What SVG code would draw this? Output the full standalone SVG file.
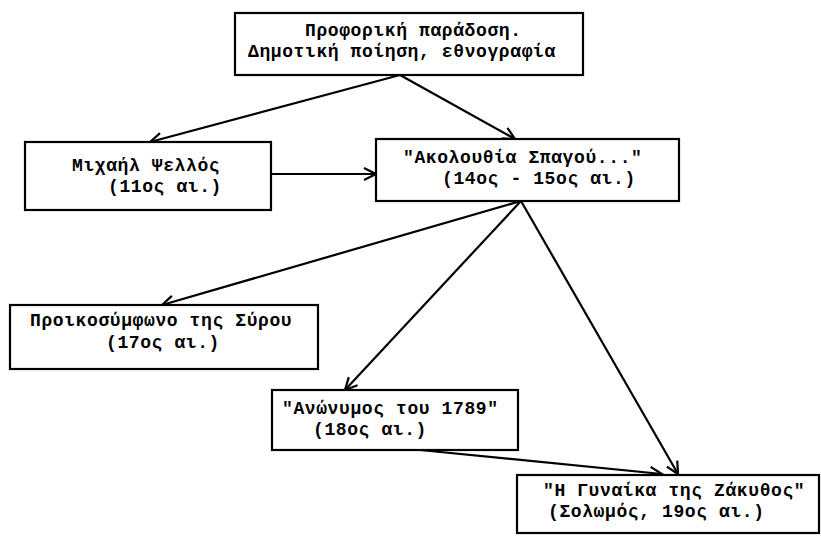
<svg xmlns="http://www.w3.org/2000/svg" width="821" height="537" viewBox="0 0 821 537">
<defs>
<style>
.box{fill:#fff;stroke:#000;stroke-width:2.2}
.t{font-family:"Liberation Mono","DejaVu Sans Mono",monospace;font-size:18px;letter-spacing:0.6px;fill:#000;font-weight:bold}
.c{fill:none;stroke:#000;stroke-width:2.2}
</style>
<marker id="ah" markerUnits="userSpaceOnUse" markerWidth="20" markerHeight="20" refX="14" refY="7" orient="auto" viewBox="0 0 20 14">
<path d="M2,1 L14,7 L2,13" fill="none" stroke="#000" stroke-width="2.2"/>
</marker>
</defs>
<rect width="821" height="537" fill="#fff"/>
<g id="connectors">
<line class="c" x1="400" y1="75" x2="150" y2="142" marker-end="url(#ah)"/>
<line class="c" x1="400" y1="75" x2="515" y2="139" marker-end="url(#ah)"/>
<line class="c" x1="271" y1="174" x2="376" y2="174" marker-end="url(#ah)"/>
<line class="c" x1="521" y1="201" x2="162" y2="305" marker-end="url(#ah)"/>
<line class="c" x1="521" y1="201" x2="345" y2="390" marker-end="url(#ah)"/>
<line class="c" x1="521" y1="201" x2="678" y2="474" marker-end="url(#ah)"/>
<line class="c" x1="420" y1="450" x2="662" y2="474" marker-end="url(#ah)"/>
</g>
<g id="n-oral">
<rect class="box" x="235" y="13" width="348" height="62"/>
<text class="t" x="305" y="36">Προφορική παράδοση.</text>
<text class="t" x="248" y="57">Δημοτική ποίηση, εθνογραφία</text>
</g>
<g id="n-psellos">
<rect class="box" x="25" y="142" width="246" height="68"/>
<text class="t" x="72" y="171">Μιχαήλ Ψελλός</text>
<text class="t" x="108" y="192">(11ος αι.)</text>
</g>
<g id="n-akolouthia">
<rect class="box" x="376" y="139" width="303" height="62"/>
<text class="t" x="403" y="163">"Ακολουθία Σπαγού..."</text>
<text class="t" x="442" y="184">(14ος - 15ος αι.)</text>
</g>
<g id="n-syros">
<rect class="box" x="10" y="305" width="308" height="64"/>
<text class="t" x="30" y="326">Προικοσύμφωνο της Σύρου</text>
<text class="t" x="106" y="348">(17ος αι.)</text>
</g>
<g id="n-anonymos">
<rect class="box" x="272" y="390" width="246" height="60"/>
<text class="t" x="282" y="414">"Ανώνυμος του 1789"</text>
<text class="t" x="313" y="435">(18ος αι.)</text>
</g>
<g id="n-zakynthos">
<rect class="box" x="517" y="475" width="302" height="58"/>
<text class="t" x="543" y="496">"Η Γυναίκα της Ζάκυθος"</text>
<text class="t" x="548" y="517">(Σολωμός, 19ος αι.)</text>
</g>
</svg>
